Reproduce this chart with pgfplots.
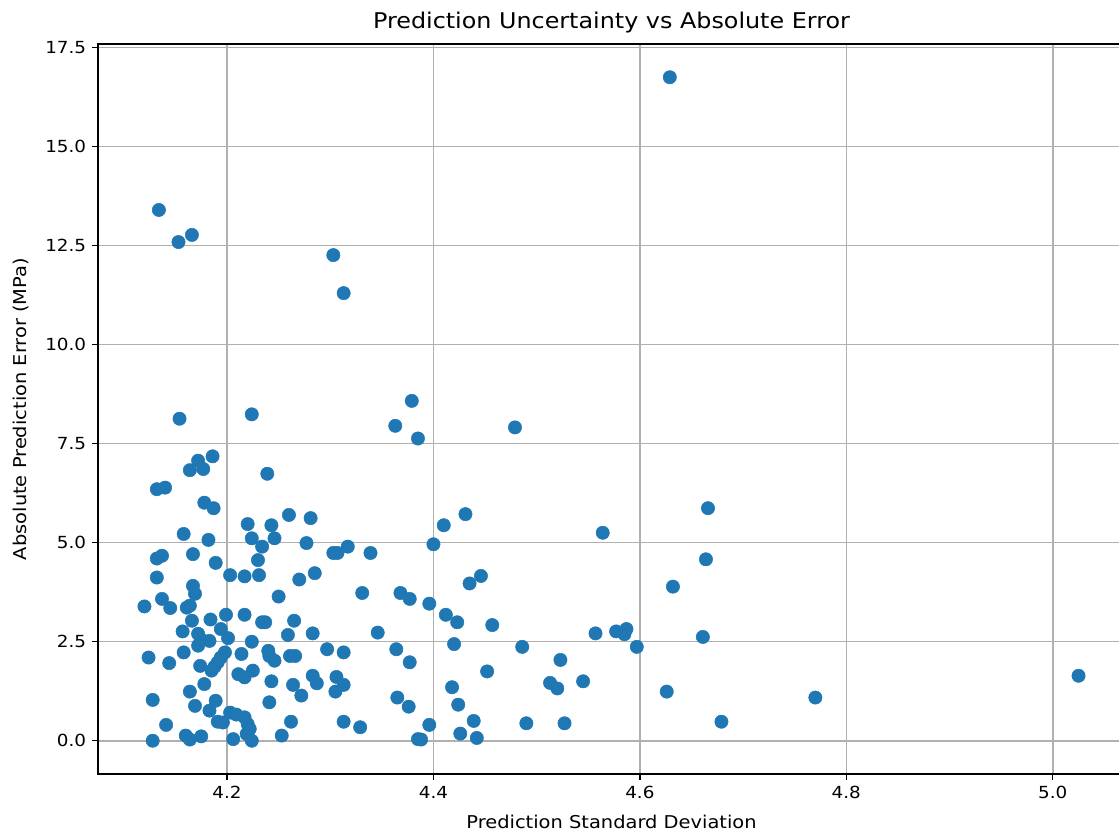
\documentclass[border=0pt]{standalone}
\usepackage{fontspec}
\setmainfont[FakeStretch=1.1]{DejaVu Sans}
\usepackage{pgfplots}
\pgfplotsset{compat=1.18}
\definecolor{mpl}{HTML}{1F77B4}
\definecolor{gridc}{HTML}{B0B0B0}
\pgfplotstableread{
x y
4.629 16.75
4.134 13.40
4.153 12.59
4.166 12.77
4.303 12.26
4.313 11.30
5.025 1.64
4.154 8.13
4.224 8.24
4.379 8.58
4.363 7.95
4.385 7.63
4.479 7.91
4.186 7.18
4.172 7.07
4.164 6.83
4.177 6.86
4.132 6.35
4.140 6.39
4.239 6.74
4.178 6.01
4.187 5.87
4.260 5.70
4.281 5.62
4.220 5.47
4.243 5.44
4.158 5.22
4.182 5.07
4.224 5.11
4.246 5.11
4.234 4.90
4.277 4.99
4.230 4.56
4.132 4.60
4.137 4.67
4.167 4.71
4.189 4.49
4.303 4.74
4.307 4.74
4.317 4.90
4.339 4.74
4.431 5.72
4.410 5.44
4.400 4.96
4.564 5.25
4.666 5.87
4.664 4.58
4.632 3.89
4.132 4.12
4.167 3.91
4.169 3.71
4.203 4.18
4.217 4.15
4.231 4.18
4.270 4.07
4.285 4.23
4.250 3.64
4.120 3.39
4.137 3.58
4.145 3.35
4.161 3.36
4.164 3.41
4.199 3.18
4.217 3.18
4.166 3.03
4.184 3.06
4.194 2.82
4.234 2.99
4.237 2.99
4.265 3.03
4.157 2.76
4.172 2.70
4.175 2.55
4.183 2.52
4.201 2.59
4.224 2.50
4.259 2.67
4.283 2.71
4.331 3.73
4.368 3.73
4.377 3.58
4.346 2.73
4.124 2.10
4.144 1.96
4.158 2.23
4.172 2.40
4.174 1.89
4.198 2.23
4.194 2.10
4.191 1.98
4.188 1.87
4.185 1.77
4.214 2.19
4.240 2.27
4.241 2.14
4.246 2.02
4.261 2.14
4.266 2.14
4.211 1.68
4.217 1.60
4.225 1.77
4.178 1.43
4.243 1.50
4.264 1.41
4.164 1.24
4.128 1.03
4.169 0.88
4.189 1.01
4.183 0.76
4.191 0.48
4.196 0.46
4.203 0.71
4.209 0.66
4.217 0.59
4.220 0.42
4.222 0.30
4.219 0.17
4.241 0.97
4.262 0.48
4.141 0.40
4.128 0.00
4.160 0.13
4.164 0.03
4.175 0.11
4.206 0.04
4.224 0.00
4.253 0.13
4.297 2.31
4.313 2.23
4.364 2.31
4.377 1.98
4.272 1.14
4.283 1.64
4.287 1.45
4.306 1.61
4.313 1.41
4.305 1.24
4.365 1.09
4.376 0.86
4.313 0.48
4.329 0.34
4.385 0.04
4.446 4.16
4.435 3.97
4.396 3.46
4.412 3.18
4.423 2.99
4.457 2.92
4.557 2.71
4.577 2.76
4.585 2.69
4.587 2.82
4.420 2.44
4.486 2.37
4.523 2.04
4.452 1.75
4.513 1.46
4.520 1.32
4.545 1.50
4.418 1.35
4.424 0.91
4.396 0.40
4.439 0.50
4.490 0.44
4.527 0.44
4.388 0.03
4.426 0.18
4.442 0.07
4.597 2.37
4.661 2.62
4.626 1.24
4.679 0.48
4.770 1.09
}\datatable
\begin{document}
\begin{tikzpicture}
\begin{scope}
\clip (-58.8pt,-37.8pt) rectangle (612.6pt,464.4pt);
\begin{axis}[
  at={(0,0)}, anchor=south west,
  scale only axis, width=616.2pt, height=438pt,
  xmin=4.075, xmax=5.070, ymin=-0.84, ymax=17.59,
  xtick={4.2,4.4,4.6,4.8,5.0},
  ytick={0,2.5,5,7.5,10,12.5,15,17.5},
  xtick pos=bottom, ytick pos=left,
  tick align=outside, major tick length=3.6pt,
  tick style={black, line width=0.8pt},
  axis line style={line width=0.9pt},
  grid=major, grid style={gridc, line width=0.95pt},
  axis on top,
  /pgf/number format/assume math mode=true,
  /pgf/number format/.cd, fixed, fixed zerofill, precision=1, /pgfplots/.cd,
  ticklabel style={font=\fontsize{10}{12}\selectfont},
  title={Prediction Uncertainty vs Absolute Error},
  title style={at={(axis description cs:0.5,1.008)}, anchor=base, font=\fontsize{13}{15}\selectfont},
  xlabel={Prediction Standard Deviation},
  xlabel style={at={(axis description cs:0.5,-0.0747)}, anchor=base, font=\fontsize{10.6}{12}\selectfont},
  ylabel={Absolute Prediction Error (MPa)},
  ylabel style={at={(axis description cs:-0.0696,0.5)}, anchor=base, font=\fontsize{10.6}{12}\selectfont},
]
\addplot[only marks, mark=*, mark size=4pt, mark options={draw=mpl, fill=mpl, line width=0.3pt}] table[x=x,y=y] {\datatable};
\end{axis}
\end{scope}
\pgfresetboundingbox
\path[use as bounding box] (-58.8pt,-37.8pt) rectangle (612.6pt,464.4pt);
\end{tikzpicture}
\end{document}
